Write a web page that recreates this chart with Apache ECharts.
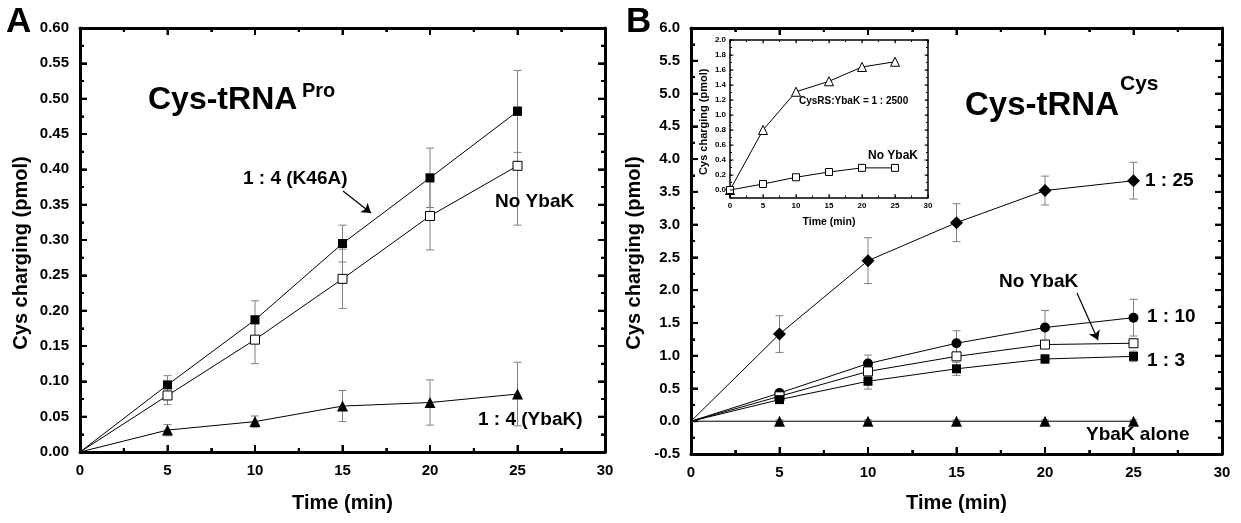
<!DOCTYPE html>
<html>
<head>
<meta charset="utf-8">
<title>Cys charging</title>
<script src="https://cdn.jsdelivr.net/npm/echarts@6.0.0/dist/echarts.min.js"></script>
<style>
  html, body { margin: 0; padding: 0; background: #fff; }
  #main { width: 1241px; height: 523px; }
</style>
</head>
<body>
<div id="main"></div>
<script>
// ---- data ----
var times = [0, 5, 10, 15, 20, 25];

// panel A  (Cys-tRNA Pro)
var aK46A      = [0, 0.095, 0.187, 0.295, 0.388, 0.482];
var aK46AErr   = [0, 0.013, 0.027, 0.026, 0.042, 0.058];
var aNoYbaK    = [0, 0.080, 0.159, 0.245, 0.334, 0.405];
var aNoYbaKErr = [0, 0.013, 0.034, 0.042, 0.048, 0.084];
var aYbaK      = [0, 0.031, 0.043, 0.065, 0.070, 0.082];
var aYbaKErr   = [0, 0.008, 0.008, 0.022, 0.032, 0.045];

// panel B  (Cys-tRNA Cys)
var b1to25     = [0, 1.33, 2.45, 3.03, 3.52, 3.67];
var b1to25Err  = [0, 0.28, 0.35, 0.29, 0.22, 0.28];
var b1to10     = [0, 0.43, 0.88, 1.19, 1.43, 1.58];
var b1to10Err  = [0, 0.05, 0.13, 0.19, 0.26, 0.28];
var bNoYbaK    = [0, 0.38, 0.76, 0.99, 1.17, 1.19];
var bNoYbaKErr = [0, 0.04, 0.08, 0.06, 0.05, 0.05];
var b1to3      = [0, 0.33, 0.61, 0.80, 0.95, 0.99];
var b1to3Err   = [0, 0.04, 0.12, 0.10, 0.07, 0.08];
var bAlone     = [0, 0, 0, 0, 0, 0];
var bAloneErr  = [0, 0.02, 0.02, 0.02, 0.02, 0.02];

// inset
var in2500   = [0, 0.80, 1.31, 1.45, 1.64, 1.71];
var inNoYbaK = [0, 0.08, 0.17, 0.24, 0.295, 0.295];

// tick values (major); minor ticks sit half way between
var xMajor   = [0, 5, 10, 15, 20, 25, 30];
var yMajorA  = [0, 0.05, 0.1, 0.15, 0.2, 0.25, 0.3, 0.35, 0.4, 0.45, 0.5, 0.55, 0.6];
var yMajorB  = [-0.5, 0, 0.5, 1, 1.5, 2, 2.5, 3, 3.5, 4, 4.5, 5, 5.5, 6];
var yMajorIn = [0, 0.2, 0.4, 0.6, 0.8, 1.0, 1.2, 1.4, 1.6, 1.8, 2.0];

var FONT = "'Liberation Sans', Arial, sans-serif";

var myChart = echarts.init(document.getElementById('main'));

// axis helper -- box with inward ticks
function axis(grid, pos, min, max, interval, fmt, big, nm) {
  var a = {
    type: 'value', gridIndex: grid, position: pos,
    min: min, max: max, interval: interval,
    axisLine: { show: true, onZero: false, lineStyle: { color: '#000', width: big ? 3 : 1.5 } },
    axisTick: { show: true, inside: true, length: big ? 7 : 2, lineStyle: { color: '#000', width: big ? 2 : 1 } },
    splitLine: { show: false }
  };
  if (big) {
    a.minorTick = { show: true, splitNumber: 2, length: 4, lineStyle: { color: '#000', width: 2 } };
  }
  if (fmt) {
    a.axisLabel = {
      show: true, formatter: fmt, color: '#000', fontFamily: FONT, fontWeight: 'bold',
      fontSize: big ? 15 : 8, margin: big ? 11 : 4
    };
  } else {
    a.axisLabel = { show: false };
  }
  if (nm) {
    a.name = nm.text;
    a.nameLocation = 'middle';
    a.nameGap = nm.gap;
    if (nm.rotate) a.nameRotate = 90;
    a.nameTextStyle = { color: '#000', fontFamily: FONT, fontWeight: 'bold', fontSize: nm.size, padding: nm.pad || 0 };
  }
  return a;
}

function mids(arr) {
  var m = [];
  for (var i = 1; i < arr.length; i++) m.push((arr[i - 1] + arr[i]) / 2);
  return m;
}

// ticks on all four sides, pointing into the plot
function tickSeries(xi, yi, xMaj, xMin, yMaj, yMin, x0, y0, big) {
  var L = big ? 7 : 3.5, l = big ? 4 : 2, w = big ? 2 : 1;
  var d = [];
  xMaj.forEach(function (v) { d.push([v, y0, 0, L]); });
  xMin.forEach(function (v) { d.push([v, y0, 0, l]); });
  yMaj.forEach(function (v) { d.push([x0, v, 1, L]); });
  yMin.forEach(function (v) { d.push([x0, v, 1, l]); });
  return {
    type: 'custom', xAxisIndex: xi, yAxisIndex: yi, z: 5, silent: true,
    data: d, encode: { x: 0, y: 1 },
    renderItem: function (params, api) {
      var cs = params.coordSys;
      var p = api.coord([api.value(0), api.value(1)]);
      var len = api.value(3), st = { stroke: '#000', lineWidth: w };
      var kids;
      if (api.value(2) === 0) {
        kids = [
          { type: 'line', shape: { x1: p[0], y1: cs.y + cs.height, x2: p[0], y2: cs.y + cs.height - len }, style: st },
          { type: 'line', shape: { x1: p[0], y1: cs.y, x2: p[0], y2: cs.y + len }, style: st }
        ];
      } else {
        kids = [
          { type: 'line', shape: { x1: cs.x, y1: p[1], x2: cs.x + len, y2: p[1] }, style: st },
          { type: 'line', shape: { x1: cs.x + cs.width, y1: p[1], x2: cs.x + cs.width - len, y2: p[1] }, style: st }
        ];
      }
      return { type: 'group', children: kids };
    }
  };
}

// main panels: no marker drawn at the origin
function pts(vals, hideFirst) {
  return times.map(function (t, i) {
    if (i === 0 && hideFirst) return { value: [t, vals[i]], symbol: 'none' };
    return [t, vals[i]];
  });
}

function line(vals, xi, yi, symbol, size, open, hideFirst) {
  return {
    type: 'line', xAxisIndex: xi, yAxisIndex: yi,
    data: pts(vals, hideFirst), symbol: symbol, symbolSize: size, showSymbol: true,
    lineStyle: { color: '#000', width: 1 },
    itemStyle: { color: open ? '#fff' : '#000', borderColor: '#000', borderWidth: open ? 1 : 0 }
  };
}

// arrow pointing at a curve, pixel positions
function arrowMark(x1, y1, x2, y2) {
  return {
    silent: true, animation: false, symbol: ['none', 'arrow'], symbolSize: 9,
    lineStyle: { color: '#000', width: 1.2, type: 'solid' },
    label: { show: false },
    data: [[{ x: x1, y: y1 }, { x: x2, y: y2 }]]
  };
}

// error bars drawn through the axes' own coord
function errBars(vals, errs, xi, yi) {
  var d = [];
  times.forEach(function (t, i) { if (errs[i] > 0) d.push([t, vals[i], errs[i]]); });
  return {
    type: 'custom', xAxisIndex: xi, yAxisIndex: yi,
    data: d, encode: { x: 0, y: 1 },
    renderItem: function (params, api) {
      var x = api.value(0), y = api.value(1), e = api.value(2);
      var hi = api.coord([x, y + e]), lo = api.coord([x, y - e]);
      var w = 4, st = { stroke: '#808080', lineWidth: 1 };
      return {
        type: 'group', children: [
          { type: 'line', shape: { x1: hi[0], y1: hi[1], x2: lo[0], y2: lo[1] }, style: st },
          { type: 'line', shape: { x1: hi[0] - w, y1: hi[1], x2: hi[0] + w, y2: hi[1] }, style: st },
          { type: 'line', shape: { x1: lo[0] - w, y1: lo[1], x2: lo[0] + w, y2: lo[1] }, style: st }
        ]
      };
    }
  };
}

// plain text labels as title components (left edge, vertical centre)
function lbl(s, x, cy, size) {
  return {
    text: s, left: x, top: cy - size / 2, padding: 0,
    textStyle: { color: '#000', fontFamily: FONT, fontWeight: 'bold', fontSize: size }
  };
}

var f0 = function (v) { return String(v); };
var f2 = function (v) { return v.toFixed(2); };
var f1 = function (v) { return v.toFixed(1); };
var fIn = function (v) {
  var k = Math.round(v * 10);
  return (k >= 0 && k % 2 === 0) ? (k / 10).toFixed(1) : '';
};

var lineA = line(aK46A, 0, 0, 'rect', 9, false, true);
lineA.markLine = arrowMark(343, 191, 371, 213);
var lineBNo = line(bNoYbaK, 2, 2, 'rect', 9, true, true);
lineBNo.markLine = arrowMark(1077, 293, 1098, 340);

var option = {
  animation: false,
  title: [
    lbl('A', 6, 22, 35),
    lbl('B', 626, 22, 35),
    lbl('Cys-tRNA', 148, 100, 32),
    lbl('Pro', 302, 91, 20),
    lbl('1 : 4 (K46A)', 243, 179, 19),
    lbl('No YbaK', 495, 202, 19),
    lbl('1 : 4 (YbaK)', 478, 420, 19),
    lbl('Cys-tRNA', 965, 106, 33),
    lbl('Cys', 1120, 84, 21),
    lbl('1 : 25', 1145, 181, 19),
    lbl('No YbaK', 999, 282, 19),
    lbl('1 : 10', 1147, 317, 19),
    lbl('1 : 3', 1147, 361, 19),
    lbl('YbaK alone', 1086, 435, 19),
    lbl('CysRS:YbaK = 1 : 2500', 799, 101, 10),
    lbl('No YbaK', 868, 156, 12)
  ],
  grid: [
    { left: 80, top: 28, width: 525, height: 424 },     // A
    { left: 691, top: 28, width: 531, height: 426 },    // B
    { left: 730, top: 40, width: 198, height: 157.5 }   // inset
  ],
  xAxis: [
    axis(0, 'bottom', 0, 30, 5, f0, true, { text: 'Time (min)', gap: 41, size: 20 }),
    axis(0, 'top', 0, 30, 5, null, true),
    axis(1, 'bottom', 0, 30, 5, f0, true, { text: 'Time (min)', gap: 39, size: 20 }),
    axis(1, 'top', 0, 30, 5, null, true),
    axis(2, 'bottom', 0, 30, 5, f0, false, { text: 'Time (min)', gap: 19, size: 10.5 }),
    axis(2, 'top', 0, 30, 5, null, false)
  ],
  yAxis: [
    axis(0, 'left', 0, 0.6, 0.05, f2, true, { text: 'Cys charging (pmol)', gap: 49, size: 20, rotate: true, pad: [0, 26, 0, 0] }),
    axis(0, 'right', 0, 0.6, 0.05, null, true),
    axis(1, 'left', -0.5, 6, 0.5, f1, true, { text: 'Cys charging (pmol)', gap: 47, size: 20, rotate: true, pad: [0, 24, 0, 0] }),
    axis(1, 'right', -0.5, 6, 0.5, null, true),
    axis(2, 'left', -0.1, 2.0, 0.1, fIn, false, { text: 'Cys charging (pmol)', gap: 21, size: 11, rotate: true, pad: [0, 6, 0, 0] }),
    axis(2, 'right', -0.1, 2.0, 0.1, null, false)
  ],
  series: [
    tickSeries(0, 0, xMajor, mids(xMajor), yMajorA, mids(yMajorA), 0, 0, true),
    tickSeries(2, 2, xMajor, mids(xMajor), yMajorB, mids(yMajorB), 0, -0.5, true),
    tickSeries(4, 4, xMajor, mids(xMajor), yMajorIn, [-0.1].concat(mids(yMajorIn)), 0, -0.1, false),
    // panel A
    errBars(aK46A, aK46AErr, 0, 0),
    errBars(aNoYbaK, aNoYbaKErr, 0, 0),
    errBars(aYbaK, aYbaKErr, 0, 0),
    lineA,
    line(aNoYbaK, 0, 0, 'rect', 9, true, true),
    line(aYbaK, 0, 0, 'triangle', 11, false, true),
    // panel B
    errBars(b1to25, b1to25Err, 2, 2),
    errBars(b1to10, b1to10Err, 2, 2),
    errBars(bNoYbaK, bNoYbaKErr, 2, 2),
    errBars(b1to3, b1to3Err, 2, 2),
    errBars(bAlone, bAloneErr, 2, 2),
    line(b1to25, 2, 2, 'diamond', 13, false, true),
    line(b1to10, 2, 2, 'circle', 10, false, true),
    lineBNo,
    line(b1to3, 2, 2, 'rect', 9, false, true),
    line(bAlone, 2, 2, 'triangle', 11, false, true),
    // inset
    line(in2500, 4, 4, 'triangle', 9, true, false),
    line(inNoYbaK, 4, 4, 'rect', 7, true, false)
  ]
};

myChart.setOption(option);
</script>
</body>
</html>
